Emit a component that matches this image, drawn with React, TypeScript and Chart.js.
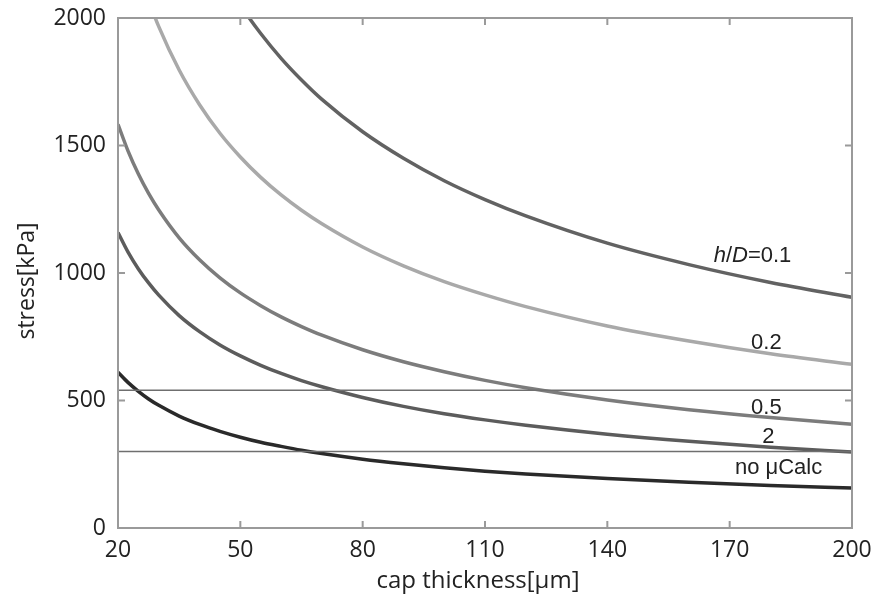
import React, { useEffect, useRef } from "react";
import { Chart, registerables } from "chart.js";

Chart.register(...registerables);

// ---- data ----
const capThickness = [20, 22.5, 25, 27.5, 30, 35, 40, 45, 50, 55, 60, 65, 70, 80, 90, 100, 110, 120, 140, 160, 180, 200];
const stressHD01 = [3520, 3284, 3087, 2918, 2772, 2531, 2339, 2182, 2051, 1939, 1842, 1757, 1681, 1554, 1450, 1362, 1288, 1224, 1117, 1033, 963, 905];
const stressHD02 = [2497, 2330, 2190, 2070, 1966, 1796, 1660, 1548, 1455, 1375, 1306, 1246, 1193, 1102, 1028, 966, 914, 868, 792, 733, 683, 642];
const stressHD05 = [1583, 1477, 1388, 1312, 1247, 1138, 1052, 981, 922, 872, 828, 790, 756, 699, 652, 613, 579, 550, 502, 464, 433, 407];
const stressHD2 = [1159, 1081, 1016, 961, 913, 833, 770, 718, 675, 638, 606, 578, 554, 512, 477, 448, 424, 403, 368, 340, 317, 298];
const stressNoCalc = [611, 570, 536, 506, 481, 439, 406, 379, 356, 336, 320, 305, 292, 270, 252, 236, 223, 212, 194, 179, 167, 157];
const thresholdLevels = [540, 300];
const xRange = [20, 200];
const yRange = [0, 2000];
const xTickStep = 30;
const yTickStep = 500;

const curveNames = ["h/D=0.1", "0.2", "0.5", "2", "no μCalc"];
const curveColors = ["#626262", "#a9a9a9", "#7c7c7c", "#5c5c5c", "#2a2a2a"];
const curveSeries = [stressHD01, stressHD02, stressHD05, stressHD2, stressNoCalc];
// label anchors (data coordinates)
const labelX = [175.6, 179, 179, 179.5, 182];
const labelY = [1068, 727, 472, 356, 234];

const xTitle = "cap thickness[μm]";
const yTitle = "stress[kPa]";

const TICK_FONT = '"Open Sans", "Noto Sans", sans-serif';
const LABEL_FONT = '"Liberation Sans", Arial, sans-serif';

const framePlugin = {
  id: "frameAndText",
  afterDatasetsDraw(chart: any) {
    const { ctx, chartArea } = chart;
    const xs = chart.scales.x;
    const ys = chart.scales.y;
    const { left, right, top, bottom } = chartArea;
    ctx.save();
    // frame
    ctx.strokeStyle = "#9a9a9a";
    ctx.lineWidth = 2;
    ctx.strokeRect(left, top, right - left, bottom - top);
    // inward ticks
    const tl = 7;
    ctx.beginPath();
    for (let v = xRange[0] + xTickStep; v < xRange[1]; v += xTickStep) {
      const px = xs.getPixelForValue(v);
      ctx.moveTo(px, bottom);
      ctx.lineTo(px, bottom - tl);
      ctx.moveTo(px, top);
      ctx.lineTo(px, top + tl);
    }
    for (let v = yRange[0] + yTickStep; v < yRange[1]; v += yTickStep) {
      const py = ys.getPixelForValue(v);
      ctx.moveTo(left, py);
      ctx.lineTo(left + tl, py);
      ctx.moveTo(right, py);
      ctx.lineTo(right - tl, py);
    }
    ctx.stroke();

    // curve labels
    ctx.fillStyle = "#222";
    ctx.textBaseline = "middle";
    ctx.textAlign = "left";
    const fontN = `22px ${LABEL_FONT}`;
    const fontI = `italic 22px ${LABEL_FONT}`;
    curveNames.forEach((name, i) => {
      const cx = xs.getPixelForValue(labelX[i]);
      const cy = ys.getPixelForValue(labelY[i]);
      let parts: [string, boolean][];
      if (i === 0) {
        parts = [["h", true], ["/", false], ["D", true], ["=0.1", false]];
      } else {
        parts = [[name, false]];
      }
      let total = 0;
      const widths = parts.map(([t, it]) => {
        ctx.font = it ? fontI : fontN;
        const w = ctx.measureText(t).width;
        total += w;
        return w;
      });
      let x = cx - total / 2;
      parts.forEach(([t, it], k) => {
        ctx.font = it ? fontI : fontN;
        ctx.fillText(t, x, cy);
        x += widths[k];
      });
    });

    // axis titles
    ctx.fillStyle = "#222";
    ctx.textAlign = "center";
    ctx.textBaseline = "middle";
    ctx.font = `24px ${TICK_FONT}`;
    ctx.fillText(xTitle, (left + right) / 2 - 7, bottom + 53);
    ctx.save();
    ctx.translate(left - 91, (top + bottom) / 2 + 8);
    ctx.rotate(-Math.PI / 2);
    ctx.font = `23px ${TICK_FONT}`;
    ctx.fillText(yTitle, 0, 0);
    ctx.restore();
    ctx.restore();
  },
};

export default function App() {
  const canvasRef = useRef<HTMLCanvasElement | null>(null);

  useEffect(() => {
    if (!canvasRef.current) return;
    const curveDatasets = curveSeries.map((series, i) => ({
      label: curveNames[i],
      data: capThickness.map((x, k) => ({ x, y: series[k] })),
      borderColor: curveColors[i],
      borderWidth: 3.5,
      pointRadius: 0,
      fill: false,
      cubicInterpolationMode: "monotone" as const,
      clip: 0,
    }));
    const thresholdDatasets = thresholdLevels.map((level) => ({
      label: `threshold ${level}`,
      data: xRange.map((x) => ({ x, y: level })),
      borderColor: "#6f6f6f",
      borderWidth: 1.5,
      pointRadius: 0,
      fill: false,
      clip: 0,
    }));

    const chart = new Chart(canvasRef.current, {
      type: "line",
      data: { datasets: [...thresholdDatasets, ...curveDatasets] as any },
      options: {
        animation: false,
        responsive: false,
        layout: { padding: { top: 18, right: 25, left: 0, bottom: 0 } },
        plugins: {
          legend: { display: false },
          tooltip: { enabled: false },
        },
        scales: {
          x: {
            type: "linear",
            min: xRange[0],
            max: xRange[1],
            grid: { display: false, drawTicks: false },
            border: { display: false },
            ticks: {
              stepSize: xTickStep,
              color: "#222",
              padding: 9,
              maxRotation: 0,
              font: { family: TICK_FONT, size: 23 },
              callback: (v: any) => String(v),
            },
            afterFit(scale: any) {
              scale.height = 76;
              scale.paddingLeft = 0;
              scale.paddingRight = 0;
            },
          },
          y: {
            type: "linear",
            min: yRange[0],
            max: yRange[1],
            grid: { display: false, drawTicks: false },
            border: { display: false },
            ticks: {
              stepSize: yTickStep,
              color: "#222",
              padding: 12,
              font: { family: TICK_FONT, size: 23 },
              callback: (v: any) => String(v),
            },
            afterFit(scale: any) {
              scale.width = 118;
              scale.paddingTop = 0;
              scale.paddingBottom = 0;
            },
          },
        },
      },
      plugins: [framePlugin],
    });
    return () => chart.destroy();
  }, []);

  return (
    <div style={{ position: "fixed", left: 0, top: 0, width: 877, height: 604, background: "#fff" }}>
      <canvas ref={canvasRef} width={877} height={604} />
    </div>
  );
}
